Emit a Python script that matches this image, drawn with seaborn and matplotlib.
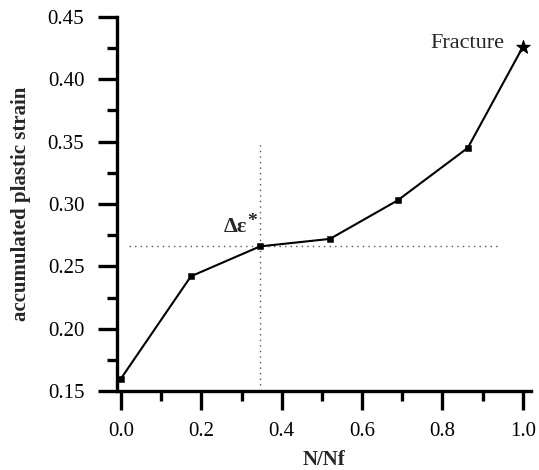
import matplotlib
matplotlib.use("Agg")
import matplotlib.pyplot as plt
import seaborn as sns
import pandas as pd
from matplotlib.ticker import MultipleLocator

# Data
n_over_nf = [0.0, 0.174, 0.346, 0.52, 0.689, 0.863, 1.0]
strain = [0.160, 0.242, 0.266, 0.272, 0.303, 0.345, 0.426]
x_label = "N/Nf"
y_label = "accumulated plastic strain"
x_ticks = [0.0, 0.2, 0.4, 0.6, 0.8, 1.0]
y_ticks = [0.15, 0.20, 0.25, 0.30, 0.35, 0.40, 0.45]
crit_x = 0.346
crit_y = 0.266

sns.set_theme(style="ticks")
plt.rcParams['font.family'] = ['Liberation Serif', 'DejaVu Serif']

df = pd.DataFrame({"N/Nf": n_over_nf, "strain": strain})

fig = plt.figure(figsize=(5.39, 4.70), dpi=100)
ax = fig.add_axes([0.217, 0.168, 0.768, 0.796])

# dotted reference lines
ax.plot([0.02, 0.94], [crit_y, crit_y], linestyle=(0, (1, 3)), color="#555555", lw=1.0)
ax.plot([crit_x, crit_x], [0.155, 0.349], linestyle=(0, (1, 3)), color="#555555", lw=1.0)

sns.lineplot(data=df, x="N/Nf", y="strain", ax=ax, color="black", lw=1.5, sort=False)
sns.scatterplot(data=df.iloc[:-1], x="N/Nf", y="strain", ax=ax, marker="s", s=24,
                color="black", edgecolor="black", zorder=5)
sns.scatterplot(data=df.iloc[-1:], x="N/Nf", y="strain", ax=ax, marker="*", s=100,
                color="black", edgecolor="black", zorder=5)

ax.text(0.955, 0.429, "Fracture", ha="right", va="center", fontsize=16)
ax.text(0.313, 0.2775, "Δε", ha="right", va="baseline", fontsize=16, fontweight="bold")
ax.text(0.314, 0.2825, "*", ha="left", va="baseline", fontsize=14, fontweight="bold")

ax.set_xlim(-0.01, 1.02)
ax.set_ylim(0.15, 0.45)
ax.set_xticks(x_ticks)
ax.set_yticks(y_ticks)
ax.set_xticklabels([f"{v:.1f}" for v in x_ticks])
ax.set_yticklabels([f"{v:.2f}" for v in y_ticks])
ax.xaxis.set_minor_locator(MultipleLocator(0.1))
ax.yaxis.set_minor_locator(MultipleLocator(0.025))

for s in ["top", "right"]:
    ax.spines[s].set_visible(False)
for s in ["left", "bottom"]:
    ax.spines[s].set_linewidth(2.4)
    ax.spines[s].set_color("black")

ax.tick_params(which="major", direction="out", length=13.5, width=2.4, labelsize=15,
               colors="black")
ax.tick_params(axis="y", which="major", pad=10)
ax.tick_params(axis="x", which="major", pad=9)
ax.tick_params(which="minor", direction="out", length=7, width=2.4, colors="black")

ax.set_xlabel(x_label, fontsize=15, fontweight="bold", labelpad=6)
ax.set_ylabel(y_label, fontsize=15, fontweight="bold")
ax.yaxis.set_label_coords(-0.208, 0.5)

fig.savefig("out.png", dpi=100, facecolor="white")
